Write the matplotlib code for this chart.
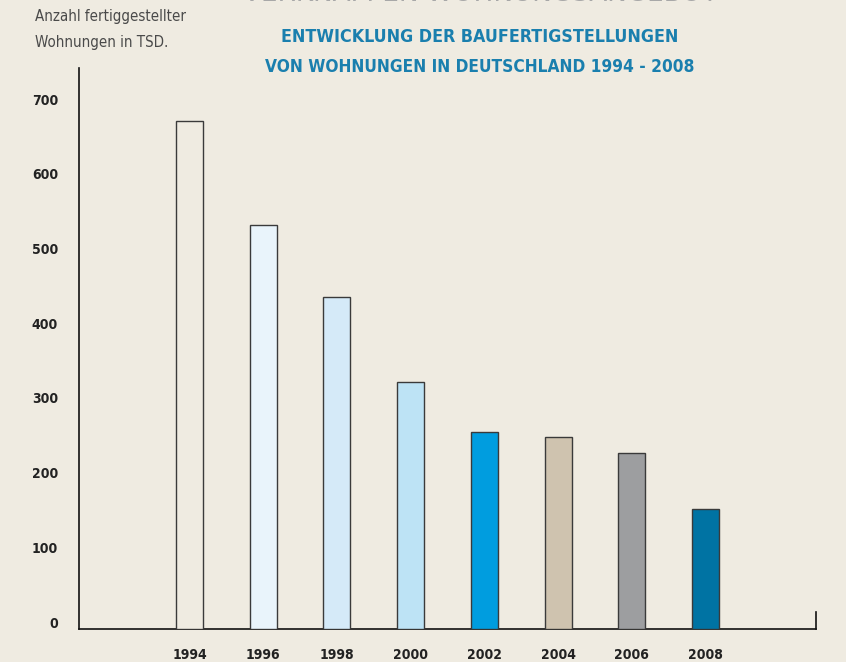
import matplotlib
matplotlib.use("Agg")
import matplotlib.pyplot as plt
import matplotlib.transforms as mtransforms

jahre = ["1994", "1996", "1998", "2000", "2002", "2004", "2006", "2008"]
wohnungen = [680, 541, 444, 331, 264, 257, 236, 161]
farben = ["#efebe1", "#e9f4fb", "#d5eaf8", "#bde3f5", "#009ddf", "#cfc3af", "#9d9ea0", "#0073a3"]
y_ticks = [0, 100, 200, 300, 400, 500, 600, 700]

BG = "#efebe1"
BLAU = "#1a7fae"

fig = plt.figure(figsize=(8.46, 6.62), dpi=100, facecolor=BG)
ax = fig.add_axes([79 / 846, 33 / 662, (816 - 79) / 846, (594 - 33) / 662])
ax.set_facecolor(BG)

x = range(len(jahre))
ax.bar(x, wohnungen, width=0.366, color=farben, edgecolor="#3a3a3a", linewidth=1.0, zorder=3)

ax.set_xlim(-1.5, 8.5)
ax.set_ylim(0, 751)

for s in ["top", "right"]:
    ax.spines[s].set_visible(False)
for s in ["left", "bottom"]:
    ax.spines[s].set_color("#111111")
    ax.spines[s].set_linewidth(1.2)

# kleiner Strich am rechten Ende der x-Achse
ax.plot([8.5, 8.5], [0, 23], color="#111111", lw=1.2, clip_on=False, zorder=4)

ax.set_xticks(list(x))
ax.set_xticklabels(jahre, fontsize=10, fontweight="bold", color="#222222",
                   family="DejaVu Sans", fontstretch="condensed")
ax.tick_params(axis="x", length=0, pad=14)

ax.set_yticks(y_ticks)
ax.set_yticklabels([str(v) for v in y_ticks], fontsize=10, fontweight="bold",
                   color="#222222", family="DejaVu Sans", fontstretch="condensed")
ax.tick_params(axis="y", length=0, pad=15)
offset = mtransforms.ScaledTranslation(0, 7 / 100, fig.dpi_scale_trans)
for lab in ax.get_yticklabels():
    lab.set_transform(lab.get_transform() + offset)

# Texte oben
fig.text(480 / 846, 1.0 + 7 / 662, "VERKNAPPEN WOHNUNGSANGEBOT", ha="center", va="center",
         fontsize=21, color="#a8a8a8", fontstretch="condensed")
fig.text(480 / 846, 1 - 37 / 662, "ENTWICKLUNG DER BAUFERTIGSTELLUNGEN", ha="center",
         va="center", fontsize=12.8, color=BLAU, fontweight="semibold", fontstretch="condensed")
fig.text(480 / 846, 1 - 67 / 662, "VON WOHNUNGEN IN DEUTSCHLAND 1994 - 2008", ha="center",
         va="center", fontsize=12.4, color=BLAU, fontweight="semibold", fontstretch="condensed")
fig.text(35 / 846, 1 - 17 / 662, "Anzahl fertiggestellter", ha="left", va="center",
         fontsize=10.8, color="#4a4a4a", fontstretch="condensed")
fig.text(35 / 846, 1 - 42 / 662, "Wohnungen in TSD.", ha="left", va="center",
         fontsize=10.8, color="#4a4a4a", fontstretch="condensed")

fig.savefig("out.png", dpi=100, facecolor=BG)
